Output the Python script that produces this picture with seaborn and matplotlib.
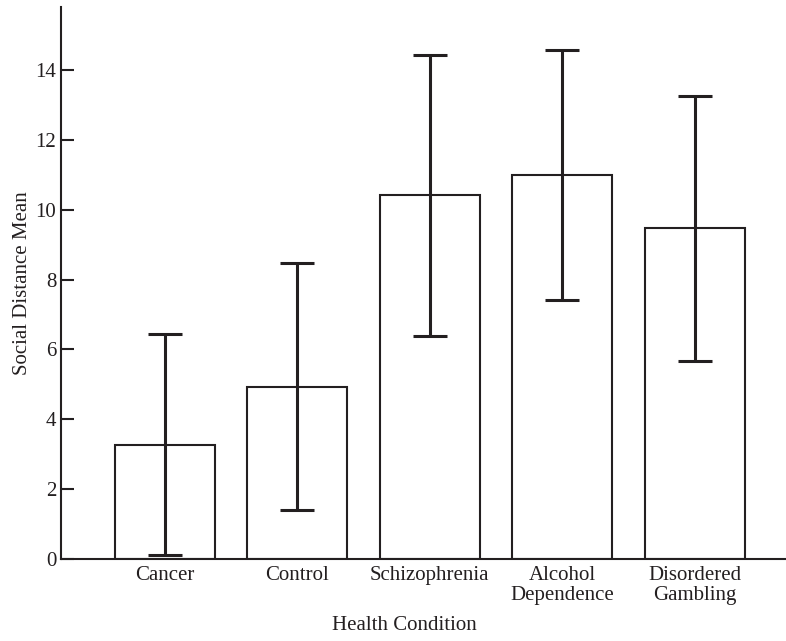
import numpy as np
import pandas as pd
import seaborn as sns
import matplotlib
matplotlib.use('Agg')
import matplotlib.pyplot as plt

conditions = ['Cancer', 'Control', 'Schizophrenia', 'Alcohol\nDependence', 'Disordered\nGambling']
means = [3.27, 4.93, 10.41, 10.99, 9.47]
errors = [3.17, 3.53, 4.03, 3.59, 3.79]
yticks = [0, 2, 4, 6, 8, 10, 12, 14]

ink = '#231f20'

sns.set_style('ticks')
plt.rcParams['font.family'] = ['Liberation Serif', 'DejaVu Serif']

df = pd.DataFrame({'condition': conditions, 'mean': means})

fig = plt.figure(figsize=(7.86, 6.41), dpi=100)
ax = fig.add_axes([0.0776, 0.128, 0.9224, 0.861])

sns.barplot(data=df, x='condition', y='mean', errorbar=None, color='white',
            edgecolor=ink, linewidth=1.5, width=0.755, ax=ax)
ax.errorbar(np.arange(len(conditions)), means, yerr=errors, fmt='none',
            ecolor=ink, elinewidth=2.2, capsize=12.5, capthick=2.2)

ax.set_xlim(-0.785, 4.69)
ax.set_ylim(0, 15.8)
ax.set_yticks(yticks)
sns.despine(ax=ax)
for side in ['left', 'bottom']:
    ax.spines[side].set_linewidth(1.5)
    ax.spines[side].set_color(ink)

ax.tick_params(axis='y', direction='in', length=9.5, width=1.5, color=ink,
               labelsize=15, pad=3.5, labelcolor=ink)
ax.tick_params(axis='x', length=0, labelsize=15, pad=5, labelcolor=ink)
for lbl in ax.get_xticklabels():
    lbl.set_linespacing(1.05)

ax.set_xlabel('Health Condition', fontsize=15, color=ink)
ax.xaxis.set_label_coords(0.474, -0.103)
ax.set_ylabel('Social Distance Mean', fontsize=15, color=ink, labelpad=2.5)

fig.savefig('out.png', dpi=100)
